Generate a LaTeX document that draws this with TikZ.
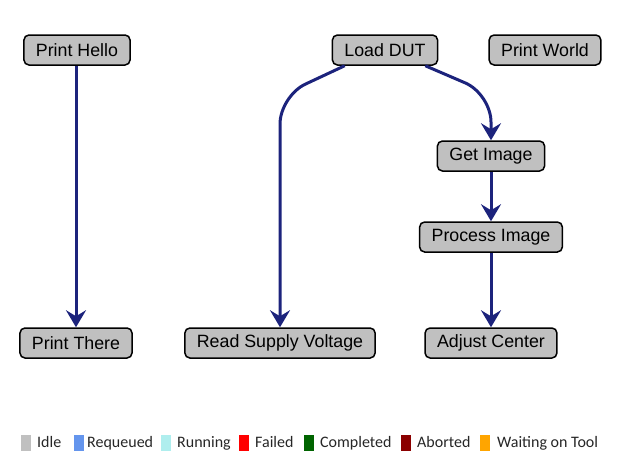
\documentclass[tikz,border=0pt]{standalone}
\usepackage{fontspec}
\setmainfont{Liberation Sans}
\newfontfamily\legfont{Carlito}
\usetikzlibrary{arrows.meta}
\definecolor{idle}{HTML}{C0C0C0}
\definecolor{requeued}{HTML}{6495ED}
\definecolor{running}{HTML}{AFEEEE}
\definecolor{failed}{HTML}{FF0000}
\definecolor{completed}{HTML}{006400}
\definecolor{aborted}{HTML}{8B0000}
\definecolor{waiting}{HTML}{FFA500}
\definecolor{edgeblue}{HTML}{1C237C}
\tikzset{
  task/.style={draw=black, fill=idle, line width=1.5pt, rounded corners=5pt,
    inner xsep=12pt, inner ysep=0pt, minimum height=30pt,
    font=\fontsize{17.8}{20}\selectfont},
  flow/.style={draw=edgeblue, line width=3pt, rounded corners=28pt,
    -{Stealth[length=17pt, width=20pt, inset=6pt]}},
  legtxt/.style={anchor=base west, inner sep=0pt, text=black!85,
    font=\legfont\fontsize{16}{18}\selectfont},
}
\begin{document}
\begin{tikzpicture}[x=1pt, y=-1pt]
\useasboundingbox (0,0) rectangle (626,469);
\node[task] (hello) at (77,50) {Print Hello};
\node[task] (load) at (385,50) {Load DUT};
\node[task] (world) at (545,50) {Print World};
\node[task] (getimg) at (491,156) {Get Image};
\node[task] (proc) at (491,237) {Process Image};
\node[task] (there) at (76,343) {Print There};
\node[task] (rsv) at (280,343) {Read Supply Voltage};
\node[task] (adj) at (491,343) {Adjust Center};
\coordinate (cl) at (280,96);
\coordinate (cr) at (491,94);
\draw[flow] (there.north |- hello.south) -- (there.north);
\draw[flow] ([xshift=13pt]load.south west) -- (cl) -- (rsv.north);
\draw[flow] ([xshift=-13pt]load.south east) -- (cr) -- (getimg.north);
\draw[flow] (getimg.south) -- (proc.north);
\draw[flow] (proc.south) -- (adj.north);
% legend
\fill[idle] (21,435) rectangle (31,451);
\node[legtxt] (l1) at (37,447) {Idle};
\fill[requeued] (74,435) rectangle (84,451);
\node[legtxt] (l2) at (87,447) {Requeued};
\fill[running] (161,435) rectangle (171,451);
\node[legtxt] (l3) at (177,447) {Running};
\fill[failed] (239,435) rectangle (249,451);
\node[legtxt] (l4) at (255,447) {Failed};
\fill[completed] (304,435) rectangle (314,451);
\node[legtxt] (l5) at (320,447) {Completed};
\fill[aborted] (401,435) rectangle (411,451);
\node[legtxt] (l6) at (417,447) {Aborted};
\fill[waiting] (480,435) rectangle (490,451);
\node[legtxt] (l7) at (497,447) {Waiting on Tool};
\end{tikzpicture}
\end{document}
